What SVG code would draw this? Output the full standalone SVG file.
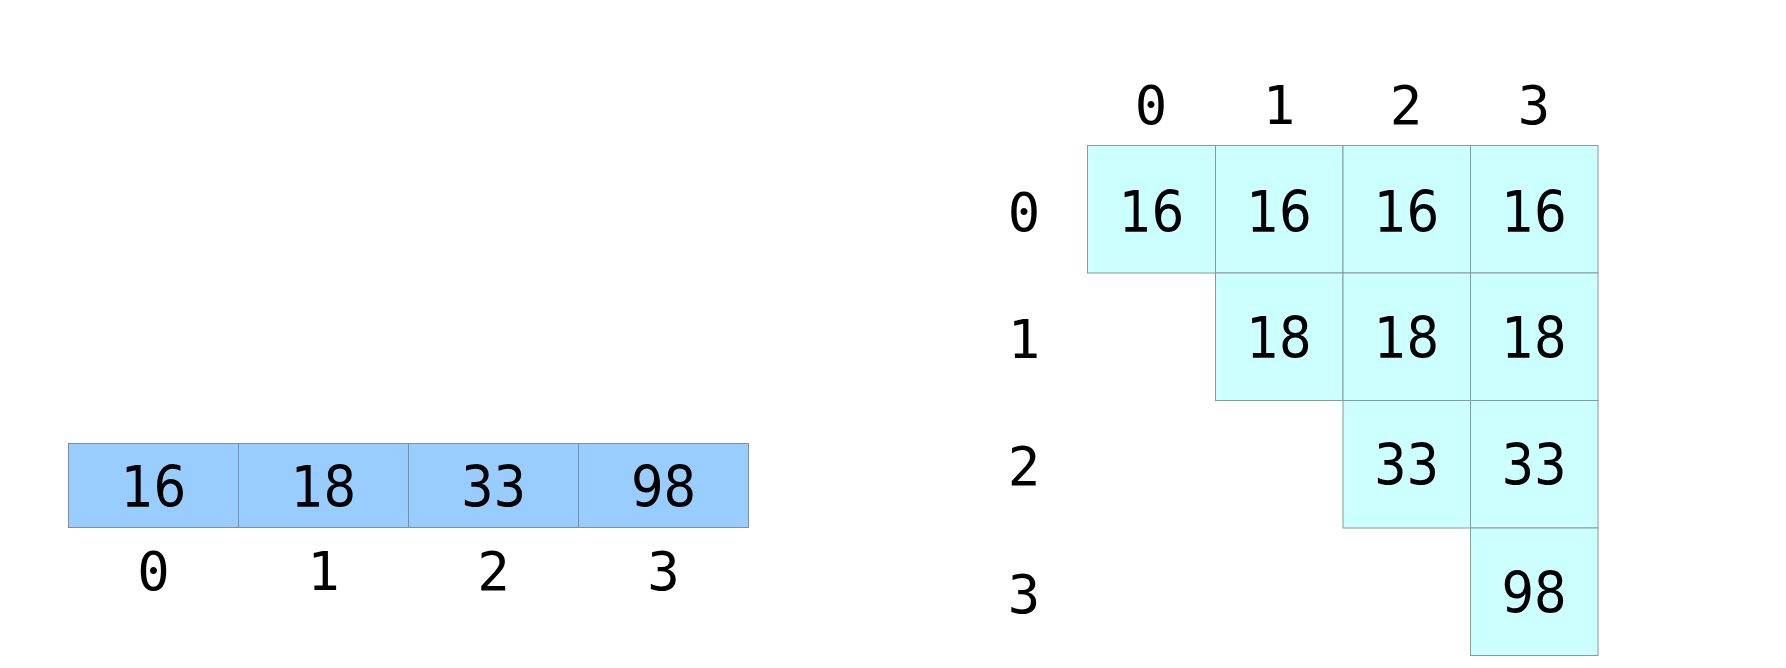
<svg xmlns="http://www.w3.org/2000/svg" width="1786" height="668" viewBox="0 0 1786 668">
<style>
.a{fill:#99ccff;stroke:#7d8fa0;stroke-width:1}
.b{fill:#ccffff;stroke:#8a9a98;stroke-width:1}
.v{font-family:"DejaVu Sans Condensed","DejaVu Sans",sans-serif;font-stretch:condensed;font-size:57px;fill:#000;text-anchor:middle}
.i{font-family:"DejaVu Sans Mono",monospace;font-size:54px;fill:#000;text-anchor:middle}
</style>
<rect width="1786" height="668" fill="#fff"/>
<g id="array">
<g id="a0"><rect class="a" x="68.5" y="443.5" width="170" height="84"/><text class="v" x="153.5" y="507">16</text></g>
<g id="a1"><rect class="a" x="238.5" y="443.5" width="170" height="84"/><text class="v" x="323.5" y="507">18</text></g>
<g id="a2"><rect class="a" x="408.5" y="443.5" width="170" height="84"/><text class="v" x="493.5" y="507">33</text></g>
<g id="a3"><rect class="a" x="578.5" y="443.5" width="170" height="84"/><text class="v" x="663.5" y="507">98</text></g>
</g>
<g id="array-idx">
<text class="i" x="153.5" y="590">0</text>
<text class="i" x="323.5" y="590">1</text>
<text class="i" x="493.5" y="590">2</text>
<text class="i" x="663.5" y="590">3</text>
</g>
<g id="grid-col-idx">
<text class="i" x="1151" y="124">0</text>
<text class="i" x="1279" y="124">1</text>
<text class="i" x="1406" y="124">2</text>
<text class="i" x="1534" y="124">3</text>
</g>
<g id="grid-row-idx">
<text class="i" x="1024" y="231">0</text>
<text class="i" x="1024" y="358">1</text>
<text class="i" x="1024" y="485">2</text>
<text class="i" x="1024" y="613">3</text>
</g>
<g id="grid">
<g id="c00"><rect class="b" x="1087.5" y="145.5" width="128" height="127.5"/><text class="v" x="1151.5" y="232">16</text></g>
<g id="c01"><rect class="b" x="1215.5" y="145.5" width="127.5" height="127.5"/><text class="v" x="1279" y="232">16</text></g>
<g id="c02"><rect class="b" x="1343" y="145.5" width="127.5" height="127.5"/><text class="v" x="1406.5" y="232">16</text></g>
<g id="c03"><rect class="b" x="1470.5" y="145.5" width="127.5" height="127.5"/><text class="v" x="1534" y="232">16</text></g>
<g id="c11"><rect class="b" x="1215.5" y="273" width="127.5" height="127.5"/><text class="v" x="1279" y="358">18</text></g>
<g id="c12"><rect class="b" x="1343" y="273" width="127.5" height="127.5"/><text class="v" x="1406.5" y="358">18</text></g>
<g id="c13"><rect class="b" x="1470.5" y="273" width="127.5" height="127.5"/><text class="v" x="1534" y="358">18</text></g>
<g id="c22"><rect class="b" x="1343" y="400.5" width="127.5" height="127.5"/><text class="v" x="1406.5" y="485">33</text></g>
<g id="c23"><rect class="b" x="1470.5" y="400.5" width="127.5" height="127.5"/><text class="v" x="1534" y="485">33</text></g>
<g id="c33"><rect class="b" x="1470.5" y="528" width="127.5" height="127.5"/><text class="v" x="1534" y="613">98</text></g>
</g>
</svg>
